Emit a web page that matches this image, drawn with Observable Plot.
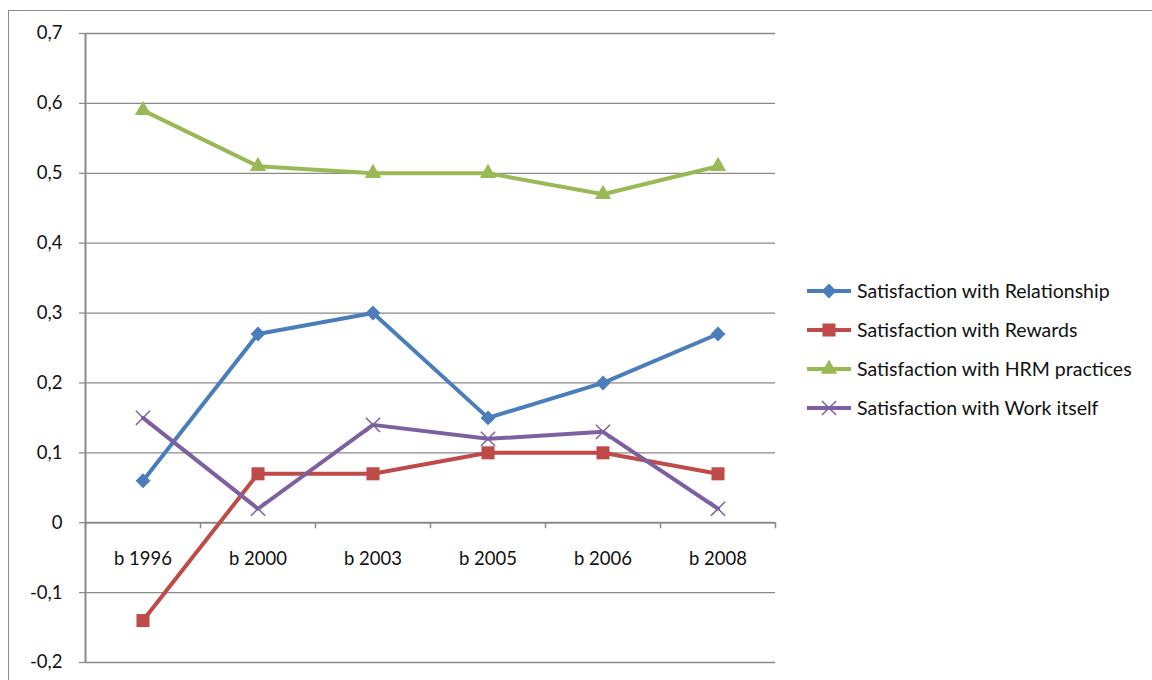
<!DOCTYPE html>
<html>
<head>
<meta charset="utf-8">
<script src="https://cdn.jsdelivr.net/npm/d3@7"></script>
<script src="https://cdn.jsdelivr.net/npm/@observablehq/plot@0.6"></script>
<style>
  html, body { margin: 0; padding: 0; background: #fff; }
  body { width: 1152px; height: 680px; overflow: hidden; position: relative; font-family: Lato, "Open Sans", sans-serif; }
  #frame { position: absolute; left: 8px; top: 10px; width: 1200px; height: 700px; border: 1px solid #8c8c8c; pointer-events: none; }
  #chart { position: absolute; left: 0; top: 0; }
  #legend { position: absolute; left: 806px; top: 271px; font-size: 19.5px; color: #111; }
  .row { display: flex; align-items: center; height: 39px; white-space: nowrap; }
  .row svg { margin-right: 5px; flex: none; }
</style>
</head>
<body>
<div id="chart"></div>
<div id="legend"></div>
<div id="frame"></div>
<script>
const categories = ["b 1996", "b 2000", "b 2003", "b 2005", "b 2006", "b 2008"];
const relationship = [0.06, 0.27, 0.30, 0.15, 0.20, 0.27];
const rewards = [-0.14, 0.07, 0.07, 0.10, 0.10, 0.07];
const hrm = [0.59, 0.51, 0.50, 0.50, 0.47, 0.51];
const workItself = [0.15, 0.02, 0.14, 0.12, 0.13, 0.02];
const yTicks = [-0.2, -0.1, 0, 0.1, 0.2, 0.3, 0.4, 0.5, 0.6, 0.7];

const seriesNames = ["Satisfaction with Relationship", "Satisfaction with Rewards", "Satisfaction with HRM practices", "Satisfaction with Work itself"];
const seriesValues = [relationship, rewards, hrm, workItself];
const seriesColors = ["#4a7ebb", "#be4b48", "#98b954", "#7d60a0"];
const seriesSymbols = ["diamond2", "square2", "triangle2", "times"];
const seriesR = [6.7, 8.3, 7.8, 6.5];

const fmt = d => d === 0 ? "0" : d.toFixed(1).replace(".", ",");

const rows = [];
seriesValues.forEach((vals, s) => vals.forEach((v, i) => rows.push({series: s, cat: categories[i], xi: i + 0.5, v})));

const marks = [
  Plot.ruleY(yTicks.filter(t => t !== 0), {x1: 0, x2: 6, stroke: "#8a8a8a", strokeWidth: 1.3}),
  Plot.axisY({ticks: yTicks, tickFormat: fmt, tickSize: 6, tickPadding: 17, label: null, fontSize: 18.5, stroke: "#8a8a8a", strokeWidth: 1.3, color: "#111"}),
  Plot.ruleX([0], {y1: -0.2, y2: 0.7, stroke: "#8a8a8a", strokeWidth: 2}),
  Plot.ruleX(d3.range(categories.length + 1), {y1: 0, y2: -0.0086, stroke: "#8a8a8a", strokeWidth: 1.5}),
  Plot.ruleY([0], {x1: 0, x2: 6, stroke: "#8a8a8a", strokeWidth: 2}),
  Plot.text(categories, {x: (d, i) => i + 0.5, y: () => 0, dy: 36, text: d => d, fontSize: 18.5, fill: "#111"})
];
seriesValues.forEach((vals, s) => {
  const data = rows.filter(r => r.series === s);
  marks.push(Plot.lineY(data, {x: "xi", y: "v", stroke: seriesColors[s], strokeWidth: 4}));
});
seriesValues.forEach((vals, s) => {
  const data = rows.filter(r => r.series === s);
  const isStroke = seriesSymbols[s] === "times";
  marks.push(Plot.dot(data, {
    x: "xi", y: "v", symbol: () => seriesSymbols[s], r: seriesR[s],
    fill: isStroke ? "none" : seriesColors[s],
    stroke: isStroke ? seriesColors[s] : "none",
    strokeWidth: isStroke ? 1.5 : 0
  }));
});

const chart = Plot.plot({
  width: 1152,
  height: 680,
  marginLeft: 85,
  marginRight: 377,
  marginTop: 33,
  marginBottom: 18,
  style: {background: "transparent", fontFamily: "Lato, 'Open Sans', sans-serif"},
  x: {domain: [0, 6], axis: null},
  y: {domain: [-0.2, 0.7]},
  symbol: {type: "identity"},
  marks
});
document.getElementById("chart").appendChild(chart);

// Legend
const legend = document.getElementById("legend");
seriesNames.forEach((name, s) => {
  const row = document.createElement("div");
  row.className = "row";
  const sw = d3.create("svg").attr("width", 46).attr("height", 18);
  sw.append("line").attr("x1", 1).attr("x2", 45).attr("y1", 9).attr("y2", 9)
    .attr("stroke", seriesColors[s]).attr("stroke-width", 4);
  const sym = {diamond2: d3.symbolDiamond2, square2: d3.symbolSquare2, triangle2: d3.symbolTriangle2, times: d3.symbolTimes}[seriesSymbols[s]];
  const size = Math.PI * seriesR[s] * seriesR[s];
  const p = sw.append("path").attr("d", d3.symbol(sym, size)()).attr("transform", "translate(23,9)");
  if (seriesSymbols[s] === "times") p.attr("fill", "none").attr("stroke", seriesColors[s]).attr("stroke-width", 1.5);
  else p.attr("fill", seriesColors[s]);
  row.appendChild(sw.node());
  const t = document.createElement("span");
  t.textContent = name;
  row.appendChild(t);
  legend.appendChild(row);
});
</script>
</body>
</html>
